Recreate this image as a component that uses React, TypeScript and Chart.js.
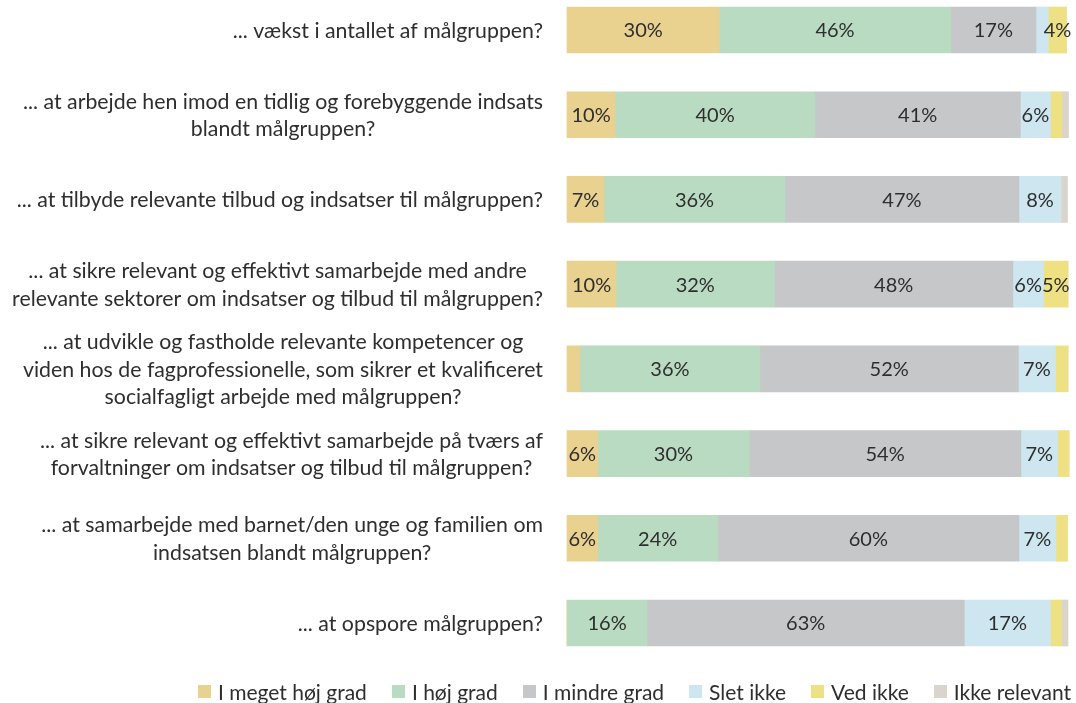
import React, { useEffect, useRef } from "react";
import { Chart, registerables } from "chart.js";

Chart.register(...registerables);

const categories: string[][] = [
  ["... vækst i antallet af målgruppen?"],
  ["... at arbejde hen imod en tidlig og forebyggende indsats", "blandt målgruppen?"],
  ["... at tilbyde relevante tilbud og indsatser til målgruppen?"],
  ["... at sikre relevant og effektivt samarbejde med andre", "relevante sektorer om indsatser og tilbud til målgruppen?"],
  [
    "... at udvikle og fastholde relevante kompetencer og",
    "viden hos de fagprofessionelle, som sikrer et kvalificeret",
    "socialfagligt arbejde med målgruppen?",
  ],
  ["... at sikre relevant og effektivt samarbejde på tværs af", "forvaltninger om indsatser og tilbud til målgruppen?"],
  ["... at samarbejde med barnet/den unge og familien om", "indsatsen blandt målgruppen?"],
  ["... at opspore målgruppen?"],
];

const seriesNames = ["I meget høj grad", "I høj grad", "I mindre grad", "Slet ikke", "Ved ikke", "Ikke relevant"];

const megetHoj = [30.4, 9.6, 7.4, 9.8, 2.6, 6.1, 6.1, 0];
const hoj = [46.2, 39.9, 36.1, 31.6, 35.9, 30.3, 24.0, 16.0];
const mindre = [17.0, 41.0, 46.7, 47.6, 51.6, 54.2, 60.1, 63.3];
const sletIkke = [2.5, 6.0, 8.4, 6.1, 7.4, 7.3, 7.4, 17.2];
const vedIkke = [3.6, 2.3, 0, 4.9, 2.5, 2.3, 2.3, 2.2];
const ikkeRelevant = [0, 1.3, 1.3, 0, 0, 0, 0, 1.3];

const seriesValues = [megetHoj, hoj, mindre, sletIkke, vedIkke, ikkeRelevant];
const seriesColors = ["#E9D18F", "#B9DBC1", "#C5C7C9", "#CDE6F0", "#EEE183", "#D9D4CC"];

const FONT = "Lato, 'Noto Sans', sans-serif";
const TEXT_COLOR = "#2e2e2e";
const LABEL_RIGHT = 543;
const LINE_H = 27.5;

const textPlugin = {
  id: "customText",
  afterDatasetsDraw(chart: any) {
    const ctx = chart.ctx;
    ctx.save();
    ctx.fillStyle = TEXT_COLOR;
    ctx.textAlign = "center";
    ctx.textBaseline = "middle";
    ctx.font = `20px ${FONT}`;
    chart.data.datasets.forEach((ds: any, di: number) => {
      const meta = chart.getDatasetMeta(di);
      meta.data.forEach((el: any, i: number) => {
        const v = ds.data[i];
        if (v >= 3.5) {
          const p = el.getProps(["x", "base", "y"], true);
          ctx.fillText(Math.round(v) + "%", (p.x + p.base) / 2, p.y + 1);
        }
      });
    });
    const yScale = chart.scales.y;
    ctx.font = `21.3px ${FONT}`;
    (chart.data.labels as any[]).forEach((lab: any, i: number) => {
      const lines: string[] = Array.isArray(lab) ? lab : [lab];
      const widest = Math.max(...lines.map((l) => ctx.measureText(l).width));
      const cx = LABEL_RIGHT - widest / 2;
      const cy = yScale.getPixelForValue(i);
      lines.forEach((l, k) => {
        ctx.fillText(l, cx, cy + (k - (lines.length - 1) / 2) * LINE_H + 1);
      });
    });
    ctx.restore();
  },
};

export default function App() {
  const canvasRef = useRef<HTMLCanvasElement | null>(null);

  useEffect(() => {
    if (!canvasRef.current) return;
    const chart = new Chart(canvasRef.current, {
      type: "bar",
      data: {
        labels: categories as any,
        datasets: seriesNames.map((name, i) => ({
          label: name,
          data: seriesValues[i],
          backgroundColor: seriesColors[i],
          borderWidth: 0,
          barThickness: 46,
          clip: false as any,
        })),
      },
      options: {
        indexAxis: "y",
        animation: false,
        responsive: false,
        maintainAspectRatio: false,
        layout: { padding: { top: 30, bottom: 80, left: 0, right: 8 } },
        plugins: {
          legend: { display: false },
          tooltip: { enabled: false },
        },
        scales: {
          x: {
            type: "linear",
            stacked: true,
            min: 0,
            max: 100,
            display: false,
          },
          y: {
            type: "category",
            stacked: true,
            offset: false,
            grid: { display: false },
            border: { display: false },
            ticks: { display: false },
            afterFit: (scale: any) => {
              scale.width = 567;
            },
          },
        },
      },
      plugins: [textPlugin],
    });
    if ((document as any).fonts && (document as any).fonts.load) {
      (document as any).fonts.load(`20px Lato`).then(() => chart.update()).catch(() => {});
    }
    return () => chart.destroy();
  }, []);

  return (
    <div style={{ position: "fixed", left: 0, top: 0, width: 1076, height: 703, background: "#fff" }}>
      <canvas ref={canvasRef} width={1076} height={703} style={{ width: 1076, height: 703, display: "block" }} />
      <div
        style={{
          position: "absolute",
          left: 0,
          width: 1071,
          top: 678,
          height: 26,
          display: "flex",
          justifyContent: "flex-end",
          alignItems: "center",
          fontFamily: FONT,
          fontSize: 21,
          color: TEXT_COLOR,
          whiteSpace: "nowrap",
        }}
      >
        {seriesNames.map((name, i) => (
          <div key={name} style={{ display: "flex", alignItems: "center", marginLeft: i === 0 ? 0 : 25 }}>
            <span style={{ width: 13, height: 13, background: seriesColors[i], display: "inline-block", marginRight: 7 }} />
            <span>{name}</span>
          </div>
        ))}
      </div>
    </div>
  );
}
